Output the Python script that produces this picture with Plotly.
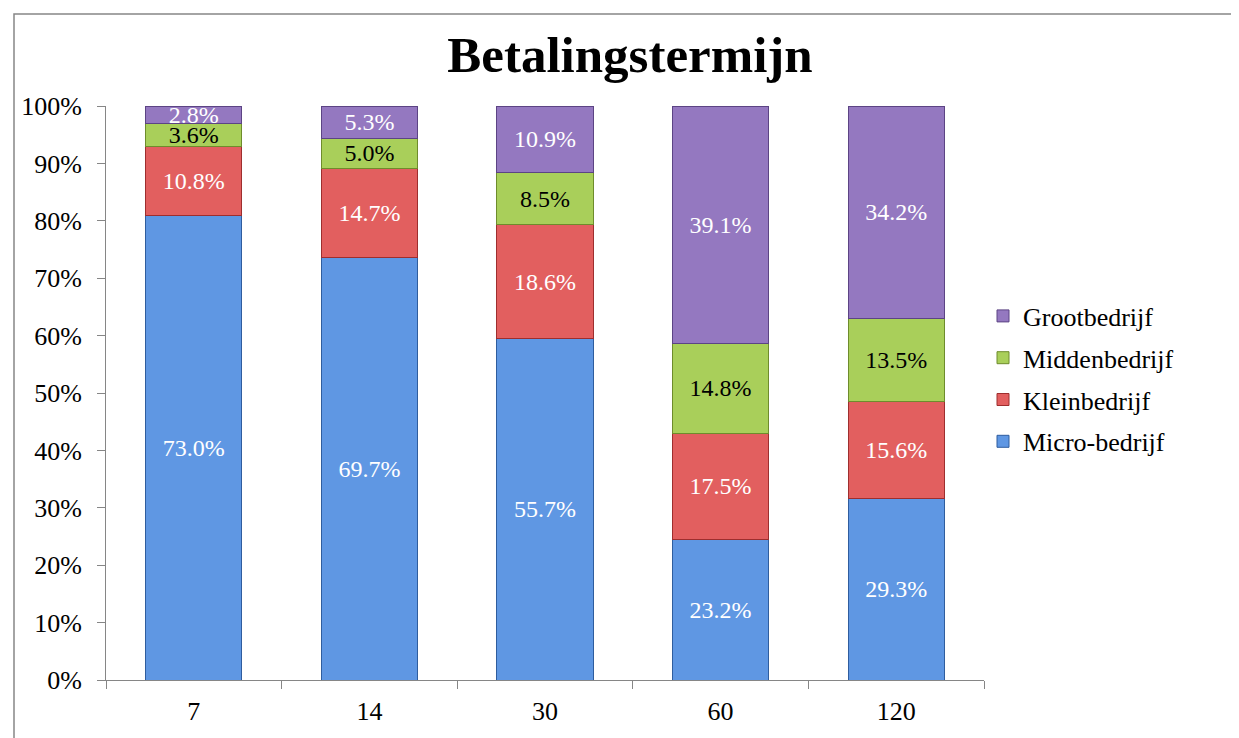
import plotly.graph_objects as go

categories = ["7", "14", "30", "60", "120"]
micro = [73.0, 69.7, 55.7, 23.2, 29.3]
klein = [10.8, 14.7, 18.6, 17.5, 15.6]
midden = [3.6, 5.0, 8.5, 14.8, 13.5]
groot = [2.8, 5.3, 10.9, 39.1, 34.2]
y_ticks = [0, 10, 20, 30, 40, 50, 60, 70, 80, 90, 100]
y_labels = [f"{v}%" for v in y_ticks]

FONT = "Liberation Serif"

series = [
    ("Micro-bedrijf", micro, "#5f97e3", "#2f5d9e", "white"),
    ("Kleinbedrijf", klein, "#e25f5f", "#9e2e2e", "white"),
    ("Middenbedrijf", midden, "#a9cf5a", "#6e8c2c", "black"),
    ("Grootbedrijf", groot, "#9478c0", "#5c4484", "white"),
]

fig = go.Figure()
for i, (name, vals, col, line, tcol) in enumerate(series):
    fig.add_trace(go.Bar(
        name=name, x=categories, y=vals, legendgroup=name,
        legendrank=1000 - i,
        text=[f"{v:.1f}%" for v in vals],
        textposition="inside", insidetextanchor="middle",
        textfont=dict(family=FONT, size=24, color=tcol),
        constraintext="none",
        marker=dict(color=col, line=dict(color=line, width=1)),
    ))

SH = 8  # page body offset
W, H = 1239, 738
L, R, T, B = 106 - SH, 984 - SH, 106 - SH, 680 - SH
pw, ph = R - L, B - T

fig.update_layout(
    width=W, height=H,
    barmode="stack", barnorm="percent", bargap=0.453,
    paper_bgcolor="white", plot_bgcolor="white",
    margin=dict(l=L, r=W - R, t=T, b=H - B, autoexpand=False),
    font=dict(family=FONT, size=26, color="black"),
    title=dict(text="<b>Betalingstermijn</b>", x=(630 - SH) / W, xanchor="center",
               y=1 - (54 - SH) / H, yanchor="middle", yref="container", xref="container",
               font=dict(family=FONT, size=51, color="black")),
    legend=dict(traceorder="grouped", x=(983 - SH - L) / pw, xanchor="left",
                y=(B - (379 - SH)) / ph, yanchor="middle",
                font=dict(family=FONT, size=26), itemwidth=30, tracegroupgap=5,
                bgcolor="rgba(0,0,0,0)"),
    xaxis=dict(showline=True, linecolor="#868686", linewidth=1, ticks="outside",
               tickson="boundaries", ticklen=8, tickcolor="#868686",
               ticklabelstandoff=8,
               tickfont=dict(family=FONT, size=26)),
    yaxis=dict(range=[0, 100], tickvals=y_ticks, ticktext=y_labels, showgrid=False,
               showline=True, linecolor="#868686", linewidth=1, ticks="outside",
               ticklen=8, tickcolor="#868686", zeroline=False,
               ticklabelstandoff=10,
               tickfont=dict(family=FONT, size=26)),
    shapes=[dict(type="rect", xref="paper", yref="paper",
                 x0=(14 - SH - L) / pw, x1=(1237 - SH - L) / pw,
                 y0=(B - 760) / ph, y1=(B - (14 - SH)) / ph,
                 line=dict(color="#868686", width=1.5), fillcolor="rgba(0,0,0,0)",
                 layer="below")],
)

fig.write_html("out.html")
